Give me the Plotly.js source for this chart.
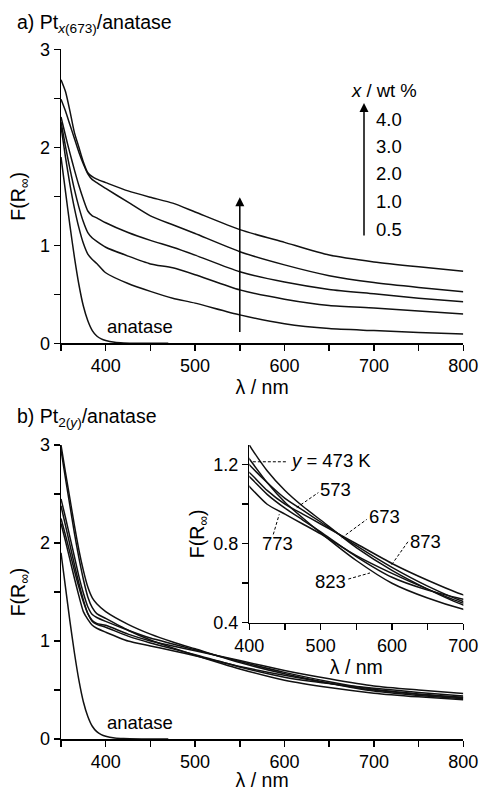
<!DOCTYPE html>
<html><head><meta charset="utf-8">
<script src="https://cdn.plot.ly/plotly-3.0.1.min.js"></script>
<style>html,body{margin:0;padding:0;background:#fff}</style>
</head><body><div id="chart" style="width:479px;height:791px"></div>
<script>
// ---- Panel a) Pt_x(673)/anatase ----
const wlA = [350,355,360,365,370,375,380,385,390,400,425,450,475,500,550,600,650,700,750,800];
const pt40 = [2.69,2.57,2.37,2.15,2.00,1.85,1.74,1.70,1.675,1.64,1.555,1.49,1.43,1.34,1.16,1.03,0.90,0.83,0.78,0.735];
const pt30 = [2.49,2.37,2.23,2.09,1.95,1.83,1.73,1.67,1.64,1.58,1.44,1.30,1.21,1.12,0.935,0.80,0.69,0.62,0.57,0.527];
const pt20 = [2.31,2.12,1.94,1.77,1.61,1.47,1.35,1.30,1.28,1.23,1.13,1.05,0.98,0.90,0.73,0.625,0.55,0.505,0.46,0.425];
const pt10 = [2.26,2.01,1.78,1.57,1.39,1.24,1.13,1.075,1.04,0.98,0.89,0.81,0.77,0.70,0.545,0.45,0.385,0.36,0.33,0.30];
const pt05 = [2.21,1.90,1.62,1.38,1.18,1.02,0.91,0.855,0.815,0.72,0.61,0.53,0.46,0.41,0.29,0.20,0.15,0.13,0.11,0.095];
const loadLabels = ["4.0","3.0","2.0","1.0","0.5"];

// anatase reference (both panels)
const wlAna = [350,355,360,365,370,375,380,385,390,395,400,410,420,440,470];
const ana = [1.90,1.55,1.20,0.88,0.60,0.38,0.23,0.13,0.075,0.045,0.028,0.01,0.004,0.001,0];

// ---- Panel b) Pt_2(y)/anatase ----
const wlB = [350,355,360,365,370,375,380,385,390,400,425,450,475,500,550,600,650,700,750,800];
const t473 = [2.95,2.66,2.38,2.10,1.85,1.63,1.45,1.34,1.28,1.23,1.11,1.01,0.93,0.855,0.715,0.60,0.525,0.468,0.43,0.40];
const t573 = [3.00,2.72,2.45,2.18,1.93,1.72,1.55,1.44,1.38,1.30,1.17,1.07,0.99,0.92,0.78,0.665,0.57,0.49,0.445,0.41];
const t673 = [2.45,2.26,2.06,1.86,1.66,1.49,1.35,1.27,1.24,1.20,1.11,1.03,0.97,0.91,0.79,0.68,0.585,0.507,0.46,0.425];
const t773 = [2.20,2.02,1.83,1.64,1.46,1.30,1.22,1.16,1.13,1.09,1.00,0.95,0.90,0.85,0.74,0.65,0.57,0.499,0.455,0.42];
const t823 = [2.38,2.18,1.98,1.78,1.59,1.42,1.28,1.20,1.17,1.14,1.05,0.98,0.92,0.86,0.735,0.63,0.565,0.519,0.475,0.44];
const t873 = [2.25,2.08,1.90,1.72,1.55,1.40,1.28,1.21,1.18,1.16,1.07,1.00,0.95,0.90,0.80,0.70,0.615,0.541,0.50,0.465];

const xTickVals = [400,500,600,700,800];
const yTickVals = [0,1,2,3];
const inXVals = [400,500,600,700];
const inYVals = [0.4,0.8,1.2];

const FONT = "Liberation Sans, Arial, Helvetica, sans-serif";
const LC = "#111";
const LW = 1.5;
const W = 479, H = 791;
const px = v => v / W;
const py = v => 1 - v / H;

function line(x, y, xa, ya, name) {
  return {x: x, y: y, xaxis: xa, yaxis: ya, type: "scatter", mode: "lines", name: name,
    line: {color: LC, width: LW, shape: "spline", smoothing: 0.6}, showlegend: false, hoverinfo: "skip"};
}

const traces = [
  line(wlA, pt40, "x", "y", "4.0 wt%"),
  line(wlA, pt30, "x", "y", "3.0 wt%"),
  line(wlA, pt20, "x", "y", "2.0 wt%"),
  line(wlA, pt10, "x", "y", "1.0 wt%"),
  line(wlA, pt05, "x", "y", "0.5 wt%"),
  line(wlAna, ana, "x", "y", "anatase"),
  line(wlB, t473, "x2", "y2", "473 K"),
  line(wlB, t573, "x2", "y2", "573 K"),
  line(wlB, t673, "x2", "y2", "673 K"),
  line(wlB, t773, "x2", "y2", "773 K"),
  line(wlB, t823, "x2", "y2", "823 K"),
  line(wlB, t873, "x2", "y2", "873 K"),
  line(wlAna, ana, "x2", "y2", "anatase"),
  line(wlB, t473, "x3", "y3", "473 K"),
  line(wlB, t573, "x3", "y3", "573 K"),
  line(wlB, t673, "x3", "y3", "673 K"),
  line(wlB, t773, "x3", "y3", "773 K"),
  line(wlB, t823, "x3", "y3", "823 K"),
  line(wlB, t873, "x3", "y3", "873 K")
];

const tf = {family: FONT, size: 18, color: "#000"};
const lf = {family: FONT, size: 18.5, color: "#000"};
const af = {family: FONT, size: 19.5, color: "#000"};
const hf = {family: FONT, size: 19.5, color: "#000"};
function axis(extra, minor) {
  return Object.assign({
    showline: true, linecolor: "#000", linewidth: 1.5, mirror: false,
    ticks: "outside", ticklen: 6, tickwidth: 1.5, tickcolor: "#000",
    showgrid: false, zeroline: false, tickfont: tf, fixedrange: true, tickmode: "array",
    minor: Object.assign({ticks: "outside", ticklen: 6, tickwidth: 1.5, tickcolor: "#000", showgrid: false}, minor)
  }, extra);
}

const xDom = [px(61), px(463.3)];
const layout = {
  width: W, height: H,
  margin: {l: 0, r: 0, t: 0, b: 0},
  paper_bgcolor: "#fff", plot_bgcolor: "rgba(0,0,0,0)",
  font: {family: FONT, size: 18, color: "#000"},
  xaxis: axis({domain: xDom, anchor: "y", range: [350, 800], tickvals: xTickVals,
    title: {text: "λ / nm", font: af, standoff: 3}}, {tick0: 350, dtick: 50}),
  yaxis: axis({domain: [py(343.3), py(49.3)], anchor: "x", range: [0, 3], tickvals: yTickVals,
    title: {text: "F(R<sub>∞</sub>)", font: af, standoff: 9}}, {tick0: 0, dtick: 0.5}),
  xaxis2: axis({domain: xDom, anchor: "y2", range: [350, 800], tickvals: xTickVals,
    title: {text: "λ / nm", font: af, standoff: 3}}, {tick0: 350, dtick: 50}),
  yaxis2: axis({domain: [py(739), py(445)], anchor: "x2", range: [0, 3], tickvals: yTickVals,
    title: {text: "F(R<sub>∞</sub>)", font: af, standoff: 9}}, {tick0: 0, dtick: 0.5}),
  xaxis3: axis({domain: [px(249.3), px(463.3)], anchor: "y3", range: [400, 700], tickvals: inXVals,
    title: {text: "λ / nm", font: af, standoff: 1}}, {tick0: 400, dtick: 50}),
  yaxis3: axis({domain: [py(622.7), py(445)], anchor: "x3", range: [0.4, 1.3], tickvals: inYVals,
    title: {text: "F(R<sub>∞</sub>)", font: af, standoff: 3}}, {tick0: 0.4, dtick: 0.2}),
  annotations: [
    {xref: "paper", yref: "paper", x: px(15), y: py(23), xanchor: "left", yanchor: "middle", showarrow: false,
      text: "a) Pt<sub><i>x</i>(673)</sub>/anatase", font: hf},
    {xref: "paper", yref: "paper", x: px(15), y: py(418), xanchor: "left", yanchor: "middle", showarrow: false,
      text: "b) Pt<sub>2(<i>y</i>)</sub>/anatase", font: hf},
    {xref: "x", yref: "y", x: 438, y: 0.17, xanchor: "center", showarrow: false, text: "anatase", font: lf},
    {xref: "x2", yref: "y2", x: 438, y: 0.17, xanchor: "center", showarrow: false, text: "anatase", font: lf},
    // increasing-loading arrow in panel a
    {xref: "x", yref: "y", x: 550, y: 1.49, axref: "x", ayref: "y", ax: 550, ay: 0.1, text: "", showarrow: true,
      arrowhead: 2, arrowsize: 1.2, arrowwidth: 1.5, arrowcolor: "#000", standoff: 0, startstandoff: 0},
    // key arrow
    {xref: "paper", yref: "paper", x: px(364), y: py(103), ax: 0, ay: 134, text: "", showarrow: true,
      arrowhead: 2, arrowsize: 1.2, arrowwidth: 1.5, arrowcolor: "#000", standoff: 0},
    {xref: "paper", yref: "paper", x: px(384), y: py(90), xanchor: "center", yanchor: "middle", showarrow: false,
      text: "<i>x</i> / wt %", font: lf},
    ...loadLabels.map((t, i) => ({xref: "paper", yref: "paper", x: px(374), y: py(119 + i * 27.5), xanchor: "left",
      yanchor: "middle", showarrow: false, text: t, font: lf})),
    // inset labels
    {xref: "x3", yref: "y3", x: 454, y: 1.22, xanchor: "left", showarrow: false, text: "<i>y</i> = 473 K", font: lf},
    {xref: "x3", yref: "y3", x: 497, y: 1.076, xanchor: "left", showarrow: false, text: "573", font: lf},
    {xref: "x3", yref: "y3", x: 565, y: 0.937, xanchor: "left", showarrow: false, text: "673", font: lf},
    {xref: "x3", yref: "y3", x: 623, y: 0.813, xanchor: "left", showarrow: false, text: "873", font: lf},
    {xref: "x3", yref: "y3", x: 538, y: 0.609, xanchor: "right", showarrow: false, text: "823", font: lf},
    {xref: "x3", yref: "y3", x: 440, y: 0.801, xanchor: "center", showarrow: false, text: "773", font: lf}
  ],
  shapes: [
    {type: "line", xref: "x3", yref: "y3", x0: 405, y0: 1.215, x1: 452, y1: 1.215, line: {color: "#000", width: 1, dash: "3px,2px"}},
    {type: "line", xref: "x3", yref: "y3", x0: 466.5, y0: 0.983, x1: 496.8, y1: 1.059, line: {color: "#000", width: 1, dash: "3px,2px"}},
    {type: "line", xref: "x3", yref: "y3", x0: 529.5, y0: 0.83, x1: 564.6, y1: 0.923, line: {color: "#000", width: 1, dash: "3px,2px"}},
    {type: "line", xref: "x3", yref: "y3", x0: 599.6, y0: 0.694, x1: 623, y1: 0.813, line: {color: "#000", width: 1, dash: "3px,2px"}},
    {type: "line", xref: "x3", yref: "y3", x0: 538.8, y0: 0.621, x1: 569.2, y1: 0.652, line: {color: "#000", width: 1, dash: "3px,2px"}},
    {type: "line", xref: "x3", yref: "y3", x0: 433.6, y0: 0.847, x1: 442, y1: 0.949, line: {color: "#000", width: 1, dash: "3px,2px"}}
  ]
};

Plotly.newPlot("chart", traces, layout, {displayModeBar: false, staticPlot: true});
</script>
</body></html>
